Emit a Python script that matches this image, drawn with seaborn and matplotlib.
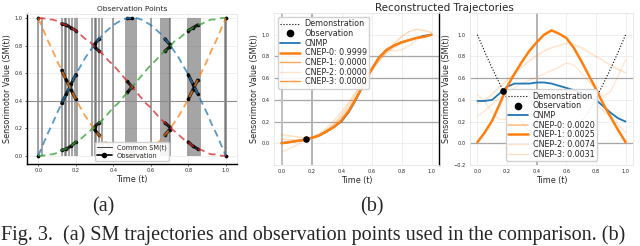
import numpy as np
import matplotlib
matplotlib.use("Agg")
import matplotlib.pyplot as plt
import seaborn as sns
from matplotlib.lines import Line2D

# ================================================================
# DATA
# ================================================================
# panel (a): four SM trajectories on a 0.025 time grid
t_a = [0.000, 0.025, 0.050, 0.075, 0.100, 0.125, 0.150, 0.175, 0.200, 0.225,
       0.250, 0.275, 0.300, 0.325, 0.350, 0.375, 0.400, 0.425, 0.450, 0.475,
       0.500, 0.525, 0.550, 0.575, 0.600, 0.625, 0.650, 0.675, 0.700, 0.725,
       0.750, 0.775, 0.800, 0.825, 0.850, 0.875, 0.900, 0.925, 0.950, 0.975, 1.000]
sm_blue = [0.00, 0.08, 0.16, 0.23, 0.31, 0.38, 0.45, 0.52, 0.59, 0.65, 0.71,
           0.76, 0.81, 0.85, 0.89, 0.92, 0.95, 0.97, 0.99, 1.00, 1.00,
           1.00, 0.99, 0.97, 0.95, 0.92, 0.89, 0.85, 0.81, 0.76, 0.71,
           0.65, 0.59, 0.52, 0.45, 0.38, 0.31, 0.23, 0.16, 0.08, 0.00]
sm_orange = [1.00, 0.92, 0.84, 0.77, 0.69, 0.62, 0.55, 0.48, 0.41, 0.35, 0.29,
             0.24, 0.19, 0.15, 0.11, 0.08, 0.05, 0.03, 0.01, 0.00, 0.00,
             0.00, 0.01, 0.03, 0.05, 0.08, 0.11, 0.15, 0.19, 0.24, 0.29,
             0.35, 0.41, 0.48, 0.55, 0.62, 0.69, 0.77, 0.84, 0.92, 1.00]
sm_red = [1.00, 1.00, 0.99, 0.99, 0.98, 0.96, 0.95, 0.93, 0.91, 0.88, 0.85,
          0.83, 0.79, 0.76, 0.73, 0.69, 0.66, 0.62, 0.58, 0.54, 0.50,
          0.46, 0.42, 0.38, 0.35, 0.31, 0.27, 0.24, 0.21, 0.18, 0.15,
          0.12, 0.10, 0.07, 0.05, 0.04, 0.02, 0.01, 0.01, 0.00, 0.00]
sm_green = [0.00, 0.00, 0.01, 0.01, 0.02, 0.04, 0.05, 0.07, 0.10, 0.12, 0.15,
            0.18, 0.21, 0.24, 0.27, 0.31, 0.35, 0.38, 0.42, 0.46, 0.50,
            0.54, 0.58, 0.62, 0.66, 0.69, 0.73, 0.76, 0.79, 0.83, 0.85,
            0.88, 0.91, 0.93, 0.95, 0.96, 0.98, 0.99, 0.99, 1.00, 1.00]
common_times = [0.0, 0.02, 0.125, 0.14, 0.15, 0.165, 0.18, 0.195, 0.205,
                0.285, 0.30, 0.31, 0.325, 0.34, 0.40,
                0.47, 0.48, 0.49, 0.50, 0.51, 0.52, 0.60,
                0.655, 0.665, 0.675, 0.685, 0.695, 0.705,
                0.80, 0.81, 0.82, 0.83, 0.84, 0.85, 0.86, 0.995, 1.0]
obs_windows = [(0.0, 0.02), (0.125, 0.205), (0.285, 0.34), (0.47, 0.52),
               (0.655, 0.705), (0.80, 0.86), (0.98, 1.0)]

# panel (b): reconstructions on a 0.05 time grid
t_b = [0.00, 0.05, 0.10, 0.15, 0.20, 0.25, 0.30, 0.35, 0.40, 0.45, 0.50,
       0.55, 0.60, 0.65, 0.70, 0.75, 0.80, 0.85, 0.90, 0.95, 1.00]
b1_demo = [0.01, 0.01, 0.02, 0.03, 0.05, 0.07, 0.10, 0.15, 0.21, 0.30, 0.42,
           0.55, 0.68, 0.79, 0.86, 0.90, 0.93, 0.95, 0.97, 0.99, 1.00]
b1_cnmp = [0.00, 0.01, 0.02, 0.03, 0.05, 0.07, 0.11, 0.15, 0.20, 0.29, 0.41,
           0.55, 0.68, 0.79, 0.86, 0.90, 0.93, 0.95, 0.97, 0.99, 1.00]
b1_cnep = [
    [0.00, 0.01, 0.02, 0.03, 0.05, 0.07, 0.11, 0.15, 0.21, 0.30, 0.42,
     0.55, 0.68, 0.79, 0.86, 0.90, 0.93, 0.95, 0.97, 0.98, 1.00],
    [0.08, 0.07, 0.06, 0.05, 0.05, 0.07, 0.12, 0.18, 0.26, 0.36, 0.47,
     0.58, 0.68, 0.76, 0.83, 0.88, 0.92, 0.95, 0.97, 0.99, 1.00],
    [-0.08, -0.05, -0.02, 0.02, 0.05, 0.09, 0.14, 0.21, 0.29, 0.38, 0.48,
     0.58, 0.68, 0.78, 0.86, 0.85, 0.86, 0.90, 0.95, 0.99, 1.00],
    [0.04, 0.03, 0.03, 0.04, 0.05, 0.08, 0.12, 0.17, 0.24, 0.33, 0.44,
     0.55, 0.66, 0.76, 0.84, 0.92, 0.98, 1.03, 1.05, 1.04, 1.02],
]
b1_labels = ["CNEP-0: 0.9999", "CNEP-1: 0.0000", "CNEP-2: 0.0000", "CNEP-3: 0.0000"]
b1_obs = (0.165, 0.035)

b2_demo = [1.00, 0.84, 0.69, 0.55, 0.41, 0.29, 0.19, 0.11, 0.05, 0.01, 0.00,
           0.01, 0.05, 0.11, 0.19, 0.29, 0.41, 0.55, 0.69, 0.84, 1.00]
b2_cnmp = [0.39, 0.39, 0.40, 0.46, 0.52, 0.55, 0.55, 0.55, 0.56, 0.56, 0.55,
           0.53, 0.51, 0.49, 0.46, 0.43, 0.40, 0.34, 0.28, 0.23, 0.20]
b2_cnep = [
    [0.37, 0.40, 0.45, 0.52, 0.58, 0.64, 0.70, 0.76, 0.81, 0.85, 0.88,
     0.90, 0.92, 0.91, 0.88, 0.84, 0.80, 0.76, 0.72, 0.68, 0.65],
    [0.01, 0.10, 0.21, 0.36, 0.52, 0.64, 0.75, 0.85, 0.93, 1.00, 1.04,
     1.01, 0.97, 0.88, 0.76, 0.63, 0.50, 0.36, 0.24, 0.12, 0.01],
    [0.25, 0.30, 0.36, 0.42, 0.47, 0.51, 0.55, 0.58, 0.61, 0.64, 0.67,
     0.70, 0.74, 0.72, 0.65, 0.57, 0.50, 0.43, 0.48, 0.62, 0.77],
    [0.45, 0.38, 0.28, 0.22, 0.22, 0.23, 0.24, 0.25, 0.27, 0.30, 0.34,
     0.38, 0.42, 0.44, 0.43, 0.40, 0.36, 0.30, 0.24, 0.17, 0.10],
]
b2_labels = ["CNEP-0: 0.0020", "CNEP-1: 0.0025", "CNEP-2: 0.0074", "CNEP-3: 0.0031"]
b2_obs = (0.17, 0.48)

# ================================================================
# STYLE / LAYOUT
# ================================================================
sns.set_theme(style="whitegrid")
plt.rcParams["font.family"] = ["DejaVu Sans"]
plt.rcParams["grid.color"] = "#ebebeb"
plt.rcParams["grid.linewidth"] = 0.6

W, H = 640, 246
fig = plt.figure(figsize=(W / 100, H / 100), dpi=100)


def px_axes(left, top, right, bottom):
    return fig.add_axes([left / W, 1 - bottom / H, (right - left) / W, (bottom - top) / H])


def style_axes(ax):
    ax.tick_params(labelsize=3.6, length=1.5, width=0.5, pad=1.5)
    for s in ax.spines.values():
        s.set_color("#e6e6e6")
        s.set_linewidth(0.6)


BLUE, ORANGE, GREEN, RED = "#1f77b4", "#ff7f0e", "#2ca02c", "#d62728"

# ================================================================
# (a) Observation Points
# ================================================================
ax = px_axes(27, 14, 237, 164)
style_axes(ax)
t_arr = np.array(t_a)
ax.vlines(common_times, 0, 1, color="0.3", alpha=0.6, lw=1.2, zorder=1)
ax.axhline(0.4, color="0.55", lw=0.8, zorder=1)
curves = [(sm_blue, BLUE), (sm_orange, ORANGE), (sm_green, GREEN), (sm_red, RED)]
for vals, col in curves:
    v = np.array(vals)
    for lo, hi in obs_windows:
        m = (t_arr >= lo - 1e-9) & (t_arr <= hi + 1e-9)
        ax.plot(t_arr[m], v[m], color="black", lw=2.3, marker="o", ms=1.6, alpha=0.8, zorder=2)
for vals, col in curves:
    sns.lineplot(x=t_a, y=vals, ax=ax, color=col, lw=1.3, alpha=0.75,
                 linestyle=(0, (4, 2.5)), zorder=3)
ax.set_xlim(-0.06, 1.06)
ax.set_ylim(-0.06, 1.03)
ax.set_xticks([0, 0.2, 0.4, 0.6, 0.8, 1.0])
ax.set_yticks([0, 0.2, 0.4, 0.6, 0.8, 1.0])
for side in ["left", "bottom"]:
    ax.spines[side].set_color("black")
    ax.spines[side].set_linewidth(1)
ax.tick_params(bottom=True, left=True)
ax.set_title("Observation Points", fontsize=5.4, pad=2.5)
ax.set_xlabel("Time (t)", fontsize=5.8, labelpad=1)
ax.set_ylabel("Sensorimotor Value (SM(t))", fontsize=5.8, labelpad=2)
handles_a = [Line2D([], [], color="0.3", lw=0.8),
             Line2D([], [], color="black", lw=1.2, marker="o", ms=3)]
ax.legend(handles_a, ["Common SM(t)", "Observation"], loc="lower center",
          fontsize=4.8, frameon=True, framealpha=0.9, handlelength=2.2,
          borderpad=0.3, labelspacing=0.3)

# ================================================================
# (b) Reconstructed Trajectories
# ================================================================
def draw_recon(ax, demo, cnmp, cneps, labels, obs, plot_alpha, leg_alpha, widths, loc):
    style_axes(ax)
    sns.lineplot(x=t_b, y=demo, ax=ax, color="black", lw=0.8, linestyle=":", zorder=3)
    for vals, a, w in zip(cneps, plot_alpha, widths):
        sns.lineplot(x=t_b, y=vals, ax=ax, color=ORANGE, lw=w, alpha=a, zorder=4 if a > 0.9 else 2)
    sns.lineplot(x=t_b, y=cnmp, ax=ax, color=BLUE, lw=1.3, zorder=3.5)
    ax.scatter([obs[0]], [obs[1]], s=14, color="black", zorder=6)
    ax.set_xlim(-0.05, 1.05)
    ax.set_ylim(-0.2, 1.2)
    ax.set_xticks([0, 0.2, 0.4, 0.6, 0.8, 1.0])
    ax.set_xlabel("Time (t)", fontsize=5.8, labelpad=1)
    ax.set_ylabel("Sensorimotor Value (SM(t))", fontsize=5.8, labelpad=2)
    handles = [Line2D([], [], color="black", lw=0.8, linestyle=":"),
               Line2D([], [], color="black", lw=0, marker="o", ms=4.5),
               Line2D([], [], color=BLUE, lw=1.3)]
    for a, w in zip(leg_alpha, widths):
        handles.append(Line2D([], [], color=ORANGE, lw=max(w, 1.0), alpha=a))
    ax.legend(handles, ["Demonstration", "Observation", "CNMP"] + labels, loc=loc,
              fontsize=5.8, frameon=True, framealpha=0.9, handlelength=2.4,
              borderpad=0.3, labelspacing=0.08, handletextpad=0.6)


ax1 = px_axes(274, 13, 439, 165)
ax1.axhline(0.2, color="0.65", lw=0.9, zorder=1)
ax1.axhline(0.4, color="0.65", lw=0.9, zorder=1)
ax1.axhline(0.6, color="0.65", lw=0.9, zorder=1)
ax1.axhline(0.8, color="0.65", lw=0.9, zorder=1)
ax1.axvline(0.0, color="0.75", lw=1.4, zorder=1)
ax1.axvline(0.2, color="0.7", lw=1.4, zorder=1)
draw_recon(ax1, b1_demo, b1_cnmp, b1_cnep, b1_labels, b1_obs,
           plot_alpha=[1.0, 0.25, 0.2, 0.3], leg_alpha=[1.0, 0.7, 0.2, 0.8],
           widths=[1.8, 1.0, 1.0, 1.0], loc="upper left")
ax1.set_yticks([0, 0.2, 0.4, 0.6, 0.8, 1.0])
ax1.spines["right"].set_color("black")
ax1.spines["right"].set_linewidth(1)

ax2 = px_axes(470, 13, 633, 165)
ax2.axhline(0.6, color="0.65", lw=0.9, zorder=1)
ax2.axhline(0.0, color="0.65", lw=0.9, zorder=1)
ax2.axvline(0.4, color="0.7", lw=1.4, zorder=1)
draw_recon(ax2, b2_demo, b2_cnmp, b2_cnep, b2_labels, b2_obs,
           plot_alpha=[0.2, 1.0, 0.18, 0.18], leg_alpha=[0.5, 1.0, 0.2, 0.25],
           widths=[1.2, 1.8, 1.0, 1.0], loc="lower center")
ax2.set_yticks([-0.2, 0, 0.2, 0.4, 0.6, 0.8, 1.0])

fig.text(444 / W, 1 - 8 / H, "Reconstructed Trajectories", ha="center", va="center", fontsize=7.5)

# ================================================================
# CAPTIONS
# ================================================================
serif = ["Liberation Serif", "DejaVu Serif"]
fig.text(103 / W, 1 - 207 / H, "(a)", ha="center", va="center", fontsize=14.5, family=serif)
fig.text(372 / W, 1 - 207 / H, "(b)", ha="center", va="center", fontsize=14.5, family=serif)
fig.text(1 / W, 1 - 235 / H,
         "Fig. 3.  (a) SM trajectories and observation points used in the comparison. (b)",
         ha="left", va="center", fontsize=14.5, family=serif)

fig.savefig("out.png", dpi=100)
